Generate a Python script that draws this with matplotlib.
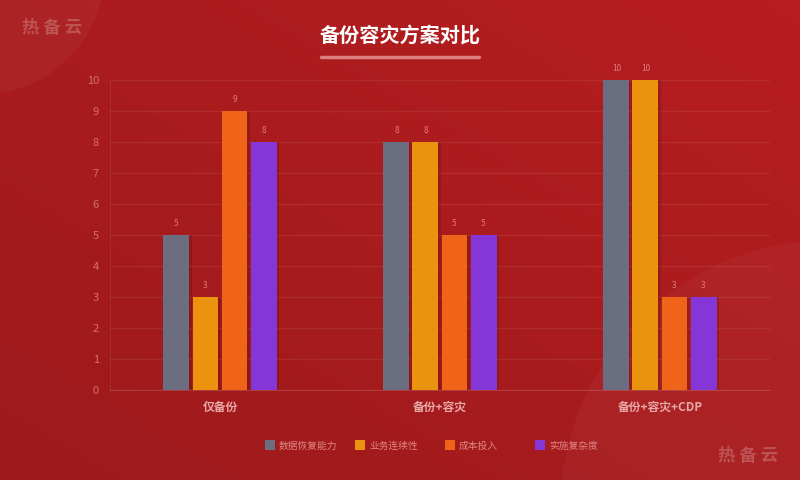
import numpy as np
import matplotlib.pyplot as plt
from matplotlib.patches import Rectangle, Circle

plt.rcParams['font.family'] = ['Noto Sans CJK SC', 'DejaVu Sans']

# dados do gráfico
categorias = ['仅备份', '备份+容灾', '备份+容灾+CDP']
series = ['数据恢复能力', '业务连续性', '成本投入', '实施复杂度']
valores = {
    '数据恢复能力': [5, 8, 10],
    '业务连续性': [3, 8, 10],
    '成本投入': [9, 5, 3],
    '实施复杂度': [8, 5, 3],
}
cores = ['#6b6e80', '#eb920f', '#ef6418', '#8436d6']
yticks = list(range(0, 11))

fig = plt.figure(figsize=(8, 4.8), dpi=100)

# fundo em degradê
bg = fig.add_axes([0, 0, 1, 1])
gx, gy = np.meshgrid(np.linspace(0, 1, 200), np.linspace(0, 1, 120))
grad = (gx + (1 - gy)) / 2
c0 = np.array([0.612, 0.102, 0.110])
c1 = np.array([0.718, 0.114, 0.122])
img = c0 + (c1 - c0) * grad[..., None]
bg.imshow(img, extent=[0, 800, 480, 0], aspect='auto')
bg.add_patch(Circle((-20, -30), 125, color='white', alpha=0.04, lw=0))
bg.add_patch(Circle((830, 510), 270, color='white', alpha=0.03, lw=0))
bg.set_xlim(0, 800)
bg.set_ylim(480, 0)
bg.axis('off')

# marcas d'água
bg.text(22, 28, '热 备 云', color='white', alpha=0.22, fontsize=12.5,
        fontweight='bold', va='center', ha='left')
bg.text(778, 456, '热 备 云', color='white', alpha=0.22, fontsize=12.5,
        fontweight='bold', va='center', ha='right')

# título
bg.text(400, 35, '备份容灾方案对比', color='white', fontsize=14.5,
        fontweight='bold', ha='center', va='center')
bg.plot([321, 479], [57, 57], color='#e89a9a', lw=2.5, alpha=0.8,
        solid_capstyle='round')

# eixo principal
ax = fig.add_axes([110/800, 1-390/480, 660/800, 310/480])
ax.patch.set_alpha(0)
x = np.arange(len(categorias))
w = 0.118
passo = 0.132
for i, s in enumerate(series):
    pos = x + (i - 1.5) * passo
    # sombra
    ax.bar(pos + 0.012, valores[s], width=w, color='black', alpha=0.12,
           zorder=2)
    barras = ax.bar(pos, valores[s], width=w, color=cores[i], zorder=3)
    for b, v in zip(barras, valores[s]):
        ax.text(b.get_x() + b.get_width()/2, v + 0.22, str(v),
                ha='center', va='bottom', fontsize=6, color='#e07a7a')

ax.set_xlim(-0.5, 2.5)
ax.set_ylim(0, 10)
ax.set_yticks(yticks)
ax.grid(axis='y', color='white', alpha=0.07, lw=1)
ax.set_axisbelow(True)
for lado in ['top', 'right']:
    ax.spines[lado].set_visible(False)
ax.spines['left'].set_color((1, 1, 1, 0.07))
ax.spines['bottom'].set_color((1, 1, 1, 0.15))
ax.tick_params(axis='y', length=0, labelsize=8, labelcolor='#d67070', pad=8)
ax.tick_params(axis='x', length=0, pad=8)
ax.set_xticks(x)
ax.set_xticklabels(categorias, fontsize=8.5, fontweight='bold', color='#e8a8a8')

# legenda
for i, s in enumerate(series):
    x0 = 265 + i * 90
    bg.add_patch(Rectangle((x0, 440), 10, 10, color=cores[i], lw=0))
    bg.text(x0 + 14, 446, s, fontsize=7, color='#e08585', va='center', ha='left')

fig.savefig('out.png', dpi=100)
